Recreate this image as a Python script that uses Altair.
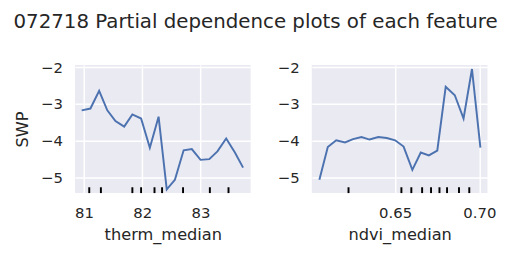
import altair as alt
import pandas as pd

# ---- data ----
therm_x = [80.96, 81.11, 81.26, 81.40, 81.54, 81.69, 81.83, 81.98, 82.13, 82.28,
           82.42, 82.56, 82.71, 82.85, 83.00, 83.15, 83.29, 83.44, 83.59, 83.73]
therm_y = [-3.17, -3.12, -2.64, -3.17, -3.46, -3.61, -3.28, -3.39, -4.18, -3.34,
           -5.31, -5.05, -4.25, -4.22, -4.51, -4.49, -4.28, -3.93, -4.31, -4.72]
therm_rug = [81.09, 81.29, 81.83, 81.98, 82.21, 82.34, 82.70, 83.16, 83.48]

ndvi_x = [0.6050, 0.6100, 0.6150, 0.6202, 0.6250, 0.6300, 0.6348, 0.6400, 0.6450, 0.6500,
          0.6550, 0.6602, 0.6652, 0.6700, 0.6750, 0.6800, 0.6854, 0.6906, 0.6956, 0.7006]
ndvi_y = [-5.05, -4.16, -3.98, -4.04, -3.95, -3.89, -3.96, -3.89, -3.92, -3.98,
          -4.15, -4.78, -4.31, -4.39, -4.26, -2.53, -2.76, -3.39, -2.05, -4.18]
ndvi_rug = [0.6223, 0.6537, 0.6596, 0.6660, 0.6713, 0.6763, 0.6808, 0.6879, 0.6940]

y_ticks = [-5, -4, -3, -2]
therm_ticks = [81, 82, 83]
ndvi_ticks = [0.65, 0.70]

W, H = 181, 132
TEXT = "#262626"
FONT = "DejaVu Sans"


def panel(xs, ys, rug, xdomain, xvalues, xfmt, xtitle, ytitle):
    line_df = pd.DataFrame({"x": xs, "y": ys})
    rug_df = pd.DataFrame({"x": rug})
    xscale = alt.Scale(domain=xdomain, nice=False, zero=False)
    yscale = alt.Scale(domain=[-5.41, -1.94], nice=False, zero=False)
    yaxis_kw = dict(values=y_ticks, format="d")
    yaxis_kw["title"] = ytitle if ytitle else ""
    line = alt.Chart(line_df).mark_line(color="#4C72B0", strokeWidth=2).encode(
        x=alt.X("x:Q", scale=xscale,
                axis=alt.Axis(values=xvalues, format=xfmt, title=xtitle)),
        y=alt.Y("y:Q", scale=yscale, axis=alt.Axis(**yaxis_kw)),
    )
    rugc = alt.Chart(rug_df).mark_rule(color="black", strokeWidth=2).encode(
        x=alt.X("x:Q", scale=xscale),
        y=alt.value(H - 6),
        y2=alt.value(H),
    )
    return alt.layer(rugc, line).properties(width=W, height=H)


left = panel(therm_x, therm_y, therm_rug, [80.845, 83.86], therm_ticks, "d",
             "therm_median", "SWP")
right = panel(ndvi_x, ndvi_y, ndvi_rug, [0.6005, 0.7048], ndvi_ticks, ".2f",
              "ndvi_median", None)

chart = alt.hconcat(left, right, spacing=27).properties(
    title=alt.TitleParams(
        "072718 Partial dependence plots of each feature",
        font=FONT, fontSize=20.4, fontWeight="normal", color=TEXT,
        anchor="middle", offset=29,
    ),
    padding={"left": 5, "top": 0, "right": 5, "bottom": 5},
).configure_view(
    fill="#EAEAF2", strokeWidth=0,
).configure_axis(
    domain=False, ticks=False, grid=True, gridColor="white", gridWidth=1.5,
    labelFont=FONT, labelFontSize=15.3, labelColor=TEXT,
    titleFont=FONT, titleFontSize=16.7, titleFontWeight="normal", titleColor=TEXT,
).configure_axisX(
    labelPadding=13, titlePadding=7,
).configure_axisY(
    labelPadding=13, titlePadding=9,
)

chart.save("out.html", embed_options={"renderer": "svg", "actions": False})
